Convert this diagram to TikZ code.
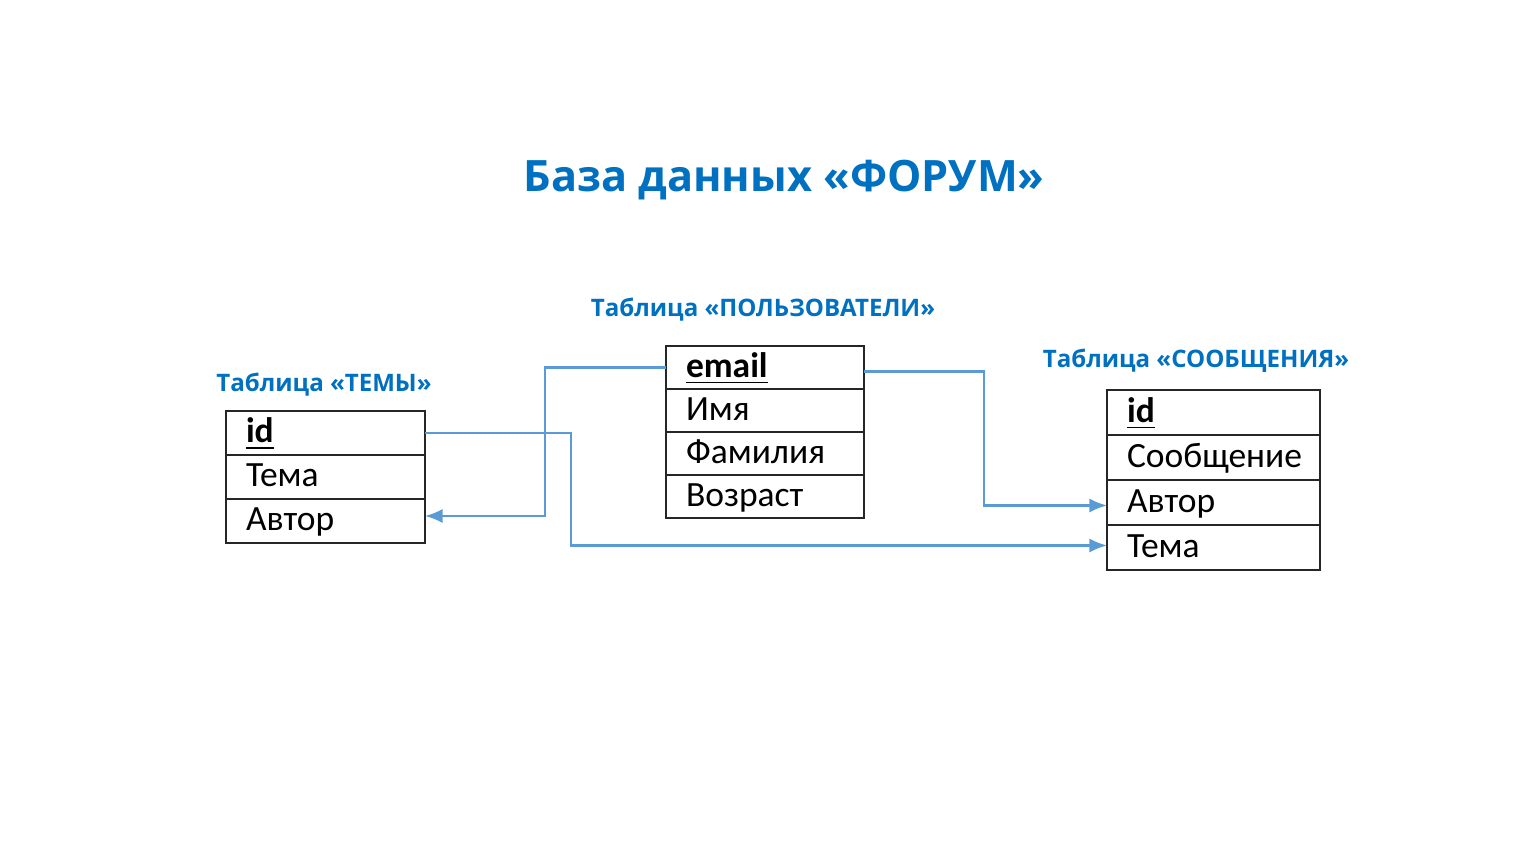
\documentclass[tikz,border=0pt]{standalone}
\usepackage{fontspec}
\setmainfont{Carlito}
\newfontfamily\headfont{Open Sans}
\usepackage{tikz}
\usetikzlibrary{arrows.meta,positioning,calc}
\definecolor{titleblue}{HTML}{0070C0}
\definecolor{linkblue}{HTML}{5B9BD5}
\tikzset{
  cell/.style={draw=black!85,line width=0.6pt,outer sep=0pt,inner xsep=0.2cm,inner ysep=0pt,
    text height=0.27cm,text depth=0.07cm,anchor=north west,font=\fontsize{10.1}{12}\selectfont},
  link/.style={-{Latex[length=5pt,width=4pt]},line width=0.6pt,linkblue},
  heading/.style={titleblue,anchor=base,font=\headfont\bfseries\fontsize{6.85}{8}\selectfont}
}

\begin{document}
\begin{tikzpicture}
    \useasboundingbox (0,0) rectangle (15.33,8.64);
    \node[titleblue,anchor=base,font=\headfont\bfseries\fontsize{12.3}{15}\selectfont] (title) at (7.84,6.72) {База данных «ФОРУМ»};

    % table ТЕМЫ
    \node[heading] (temy) at (3.24,4.72) {Таблица «ТЕМЫ»};
    \begin{scope}[cell/.append style={minimum width=1.99cm,minimum height=0.44cm,text width=1.59cm}]
      \node[cell] (temy-id) at (2.26,4.53) {\underline{\textbf{id}}};
      \node[cell,below=0pt of temy-id] (temy-tema) {Тема};
      \node[cell,below=0pt of temy-tema] (temy-avtor) {Автор};
    \end{scope}

    % table ПОЛЬЗОВАТЕЛИ
    \node[heading] (polz) at (7.63,5.47) {Таблица «ПОЛЬЗОВАТЕЛИ»};
    \begin{scope}[cell/.append style={minimum width=1.98cm,minimum height=0.43cm,text width=1.58cm}]
      \node[cell] (polz-email) at (6.66,5.18) {\underline{\textbf{email}}};
      \node[cell,below=0pt of polz-email] (polz-imya) {Имя};
      \node[cell,below=0pt of polz-imya] (polz-fam) {Фамилия};
      \node[cell,below=0pt of polz-fam] (polz-voz) {Возраст};
    \end{scope}

    % table СООБЩЕНИЯ
    \node[heading] (soob) at (11.96,4.96) {Таблица «СООБЩЕНИЯ»};
    \begin{scope}[cell/.append style={minimum width=2.13cm,minimum height=0.45cm,text width=1.73cm}]
      \node[cell] (soob-id) at (11.07,4.74) {\underline{\textbf{id}}};
      \node[cell,below=0pt of soob-id] (soob-msg) {Сообщение};
      \node[cell,below=0pt of soob-msg] (soob-avtor) {Автор};
      \node[cell,below=0pt of soob-avtor] (soob-tema) {Тема};
    \end{scope}

    \draw[link] (polz-email.west) -- ++(-1.21,0) |- ([yshift=0.05cm]temy-avtor.east);
    \draw[link] (temy-id.east) -- ++(1.46,0) |- ([yshift=0.02cm]soob-tema.west);
    \draw[link] ([yshift=-0.04cm]polz-email.east) -- ++(1.20,0) |- ([yshift=-0.03cm]soob-avtor.west);
\end{tikzpicture}
\end{document}
